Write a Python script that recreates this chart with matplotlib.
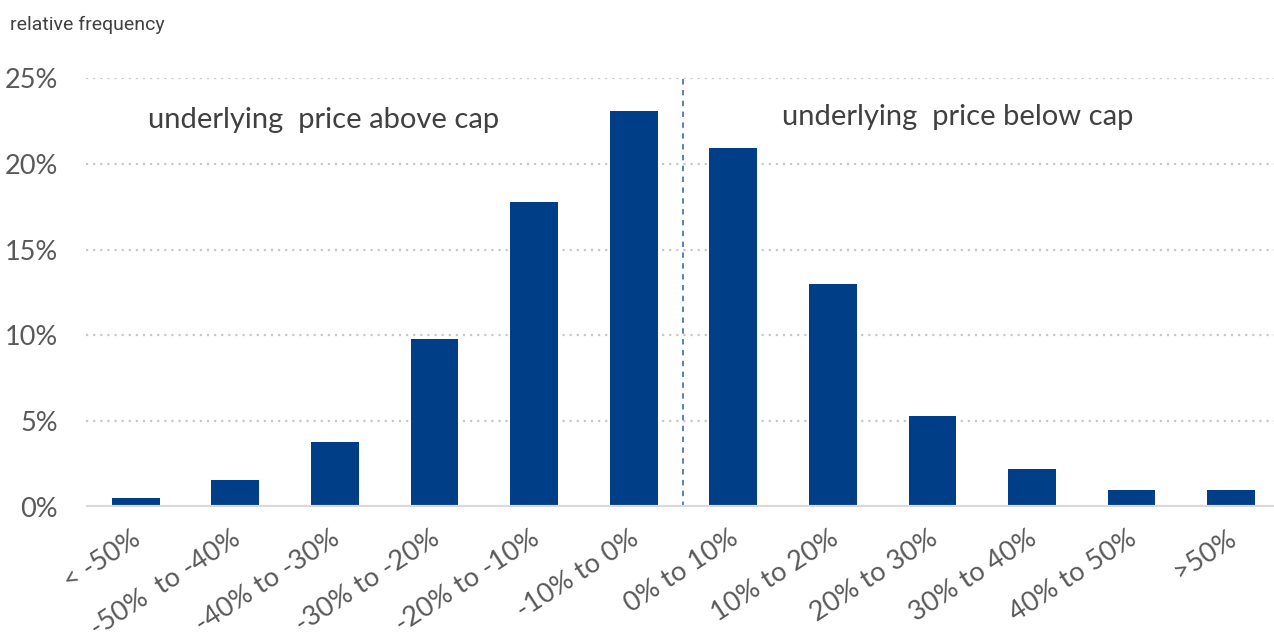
import matplotlib
matplotlib.use("Agg")
import matplotlib.pyplot as plt
from matplotlib.ticker import FuncFormatter
from matplotlib.transforms import ScaledTranslation

categories = ["< -50%", "-50%  to -40%", "-40% to -30%", "-30% to -20%", "-20% to -10%",
              "-10% to 0%", "0% to 10%", "10% to 20%", "20% to 30%", "30% to 40%",
              "40% to 50%", ">50%"]
frequency = [0.5, 1.6, 3.8, 9.8, 17.8, 23.1, 20.9, 13.0, 5.3, 2.2, 1.0, 1.0]
y_ticks = [0, 5, 10, 15, 20, 25]

plt.rcParams['font.family'] = ['Lato', 'DejaVu Sans']

fig = plt.figure(figsize=(12.74, 6.33), dpi=100)
ax = fig.add_axes([86 / 1274, 1 - 507 / 633, (1274 - 86) / 1274, (507 - 78) / 633])

x = list(range(len(categories)))
ax.bar(x, frequency, width=0.48, color="#003f88", zorder=3)

ax.set_ylim(0, 25)
ax.set_xlim(-0.5, 11.43)
ax.set_yticks(y_ticks)
ax.yaxis.set_major_formatter(FuncFormatter(lambda v, p: f"{v:.0f}%"))
ax.grid(axis="y", linestyle=(0, (1, 2.2)), color="#c8c8c8", linewidth=1.6, zorder=0)
ax.axhline(0, color="#d9d9d9", linewidth=3, zorder=4)

for s in ax.spines.values():
    s.set_visible(False)
ax.tick_params(axis="both", length=0, labelsize=19.5, labelcolor="#595959")
ax.tick_params(axis="y", pad=20)
ax.set_xticks(x)
ax.set_xticklabels(categories, rotation=33, ha="right", va="top", rotation_mode="anchor")
offset = ScaledTranslation(-4 / 100, -14 / 100, fig.dpi_scale_trans)
for lbl in ax.get_xticklabels():
    lbl.set_transform(lbl.get_transform() + offset)

ax.axvline(5.5, color="#4a78b0", linestyle=(0, (3, 3)), linewidth=1.3, zorder=2)

ax.text(1.89, 22.55, "underlying  price above cap", ha="center", va="center",
        fontsize=21, color="#404040")
ax.text(8.25, 22.75, "underlying  price below cap", ha="center", va="center",
        fontsize=21, color="#404040")

fig.text(10 / 1274, 1 - 25 / 633, "relative frequency", ha="left", va="center",
         fontsize=14, color="#404040", family=['Roboto', 'DejaVu Sans'])

fig.savefig("out.png", dpi=100)
